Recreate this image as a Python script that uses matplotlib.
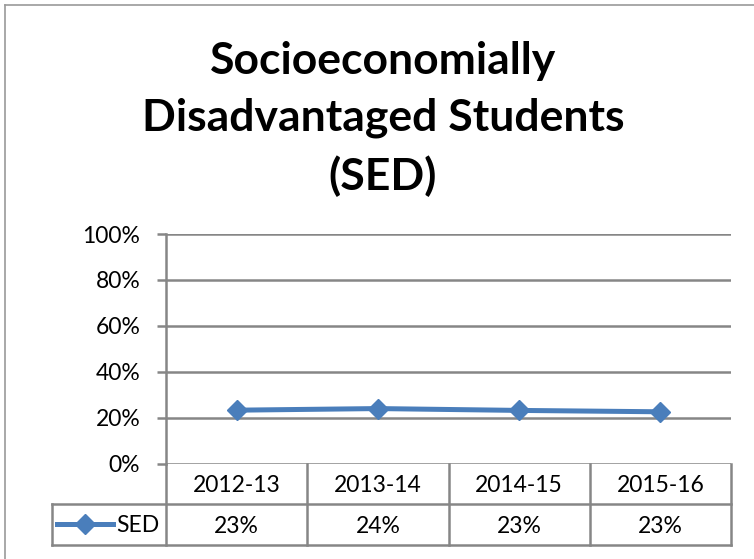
import matplotlib
matplotlib.use("Agg")
import matplotlib.pyplot as plt
from matplotlib.lines import Line2D
import matplotlib.transforms as mtransforms

# Chart data
categories = ["2012-13", "2013-14", "2014-15", "2015-16"]
series_name = "SED"
sed_values = [0.234, 0.241, 0.233, 0.227]
y_ticks = [0.0, 0.2, 0.4, 0.6, 0.8, 1.0]
title_text = "Socioeconomially\nDisadvantaged Students\n(SED)"

W, H = 754, 559
DPI = 100
LINE_BLUE = "#4A7EBB"
GRID_GRAY = "#868686"
FONT = "Lato"
LABEL_SIZE = 16.5

plt.rcParams["font.family"] = [FONT, "DejaVu Sans"]

fig = plt.figure(figsize=(W / DPI, H / DPI), dpi=DPI)
fig.patch.set_facecolor("white")


def fx(px):
    return px / W


def fy(py):
    return 1 - py / H


# Outer chart-area frame (clipped on right/bottom)
fig.add_artist(Line2D([fx(5), fx(5)], [fy(5), fy(600)], color="#9A9A9A", lw=1.2,
                      transform=fig.transFigure))
fig.add_artist(Line2D([fx(5), fx(800)], [fy(5), fy(5)], color="#9A9A9A", lw=1.2,
                      transform=fig.transFigure))

# Title
fig.text(fx(383), fy(119), title_text, ha="center", va="center", fontsize=32,
         fontweight="bold", linespacing=1.5, color="black")

# Plot area
left, right, top, bottom = 166, 731, 234, 464
ax = fig.add_axes([fx(left), fy(bottom), fx(right - left), (bottom - top) / H])
ax.set_xlim(-0.5, len(categories) - 0.5)
ax.set_ylim(0, 1)
ax.set_facecolor("none")

for s in ["top", "right", "bottom"]:
    ax.spines[s].set_visible(False)
ax.spines["left"].set_color(GRID_GRAY)
ax.spines["left"].set_linewidth(1.8)

ax.set_yticks(y_ticks)
ax.set_yticklabels([f"{int(round(t * 100))}%" for t in y_ticks])
ax.tick_params(axis="y", length=6.5, width=1.8, color=GRID_GRAY, direction="out",
               pad=12, labelsize=LABEL_SIZE, labelcolor="black")
ax.set_xticks([])
ax.yaxis.grid(True, color=GRID_GRAY, lw=1.8)
ax.set_axisbelow(True)

ax.plot(range(len(categories)), sed_values, color=LINE_BLUE, lw=3.6, marker="D",
        markersize=10, markeredgecolor=LINE_BLUE, clip_on=False, zorder=3)

# Data table beneath the plot
row1_bottom, row2_bottom, legend_left = 504, 545, 52
tcol = dict(color=GRID_GRAY, lw=1.8, transform=fig.transFigure, zorder=5)

# y-axis line continues down through the table
fig.add_artist(Line2D([fx(left), fx(left)], [fy(bottom), fy(row2_bottom)], **tcol))
fig.add_artist(Line2D([fx(legend_left), fx(right)], [fy(row1_bottom), fy(row1_bottom)], **tcol))
fig.add_artist(Line2D([fx(legend_left), fx(right)], [fy(row2_bottom), fy(row2_bottom)], **tcol))
fig.add_artist(Line2D([fx(legend_left), fx(legend_left)], [fy(row1_bottom), fy(row2_bottom)], **tcol))

blend = mtransforms.blended_transform_factory(ax.transData, fig.transFigure)
for i in range(len(categories)):
    xb = i + 0.5
    ax.add_artist(Line2D([xb, xb], [fy(bottom), fy(row2_bottom)], color=GRID_GRAY, lw=1.8,
                         transform=blend, clip_on=False))

for i, (cat, v) in enumerate(zip(categories, sed_values)):
    ax.text(i, fy((bottom + row1_bottom) / 2 + 1), cat, transform=blend, ha="center",
            va="center", fontsize=LABEL_SIZE, clip_on=False)
    ax.text(i, fy((row1_bottom + row2_bottom) / 2 + 2), f"{int(round(v * 100))}%",
            transform=blend, ha="center", va="center", fontsize=LABEL_SIZE, clip_on=False)

# Legend key in the table's first column
ly = fy(524)
fig.add_artist(Line2D([fx(57), fx(113)], [ly, ly], color=LINE_BLUE, lw=3.6,
                      transform=fig.transFigure, zorder=6))
fig.add_artist(Line2D([fx(85)], [ly], color=LINE_BLUE, marker="D", markersize=10,
                      markeredgecolor=LINE_BLUE, transform=fig.transFigure, zorder=6))
fig.text(fx(116), fy(526), series_name, ha="left", va="center", fontsize=LABEL_SIZE)

fig.savefig("out.png", dpi=DPI, facecolor="white")
